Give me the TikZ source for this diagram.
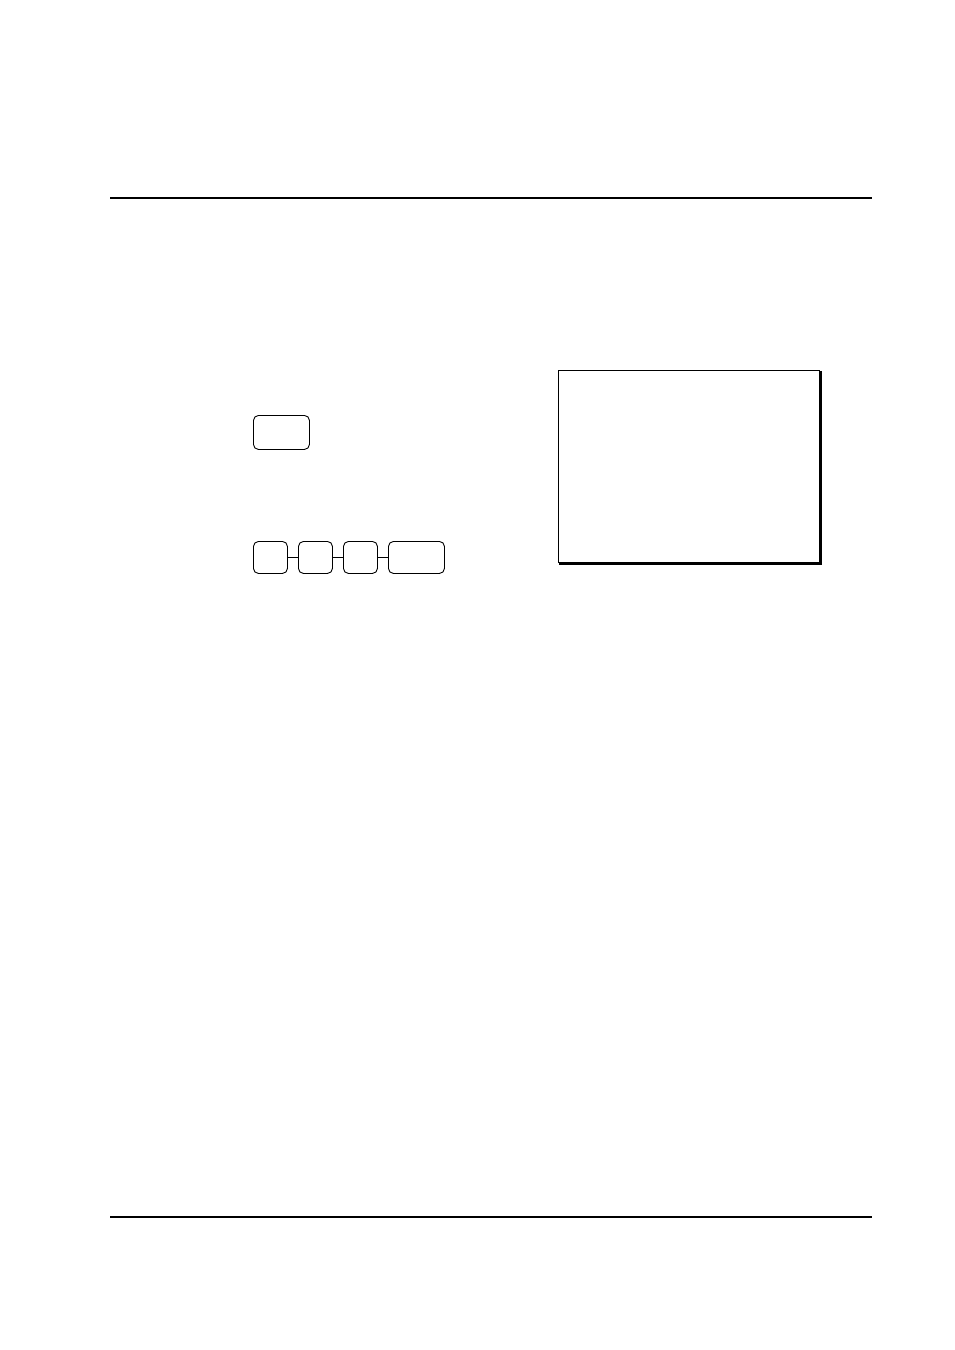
\documentclass[tikz,border=0pt]{standalone}
\begin{document}
\begin{tikzpicture}[x=1pt,y=-1pt,
  keybox/.style={draw, line width=0.9pt, rounded corners=5pt, inner sep=0pt, anchor=north west},
  rule/.style={line width=1.2pt},
  link/.style={line width=1.4pt}]
\useasboundingbox (0,0) rectangle (954,1350);
\draw[rule] (110,198) -- (872,198);
\draw[rule] (110,1217) -- (872,1217);
% single key
\node[keybox, minimum width=56pt, minimum height=34pt] (k0) at (253,415) {};
% row of keys
\node[keybox, minimum width=34pt, minimum height=32pt] (k1) at (253,541) {};
\node[keybox, minimum width=34pt, minimum height=32pt] (k2) at (298,541) {};
\node[keybox, minimum width=34pt, minimum height=32pt] (k3) at (343,541) {};
\node[keybox, minimum width=56pt, minimum height=32pt] (k4) at (388,541) {};
\draw[link] (k1.east) -- (k2.west);
\draw[link] (k2.east) -- (k3.west);
\draw[link] (k3.east) -- (k4.west);
% display box with shadow
\node[draw, line width=1.2pt, minimum width=261pt, minimum height=192pt, inner sep=0pt, anchor=north west] (disp) at (558,370) {};
\draw[line width=1.6pt] ([xshift=0.8pt,yshift=-0.8pt]disp.north east) -- ([xshift=0.8pt,yshift=-0.8pt]disp.south east) -- ([xshift=0.8pt,yshift=-0.8pt]disp.south west);
\end{tikzpicture}
\end{document}
